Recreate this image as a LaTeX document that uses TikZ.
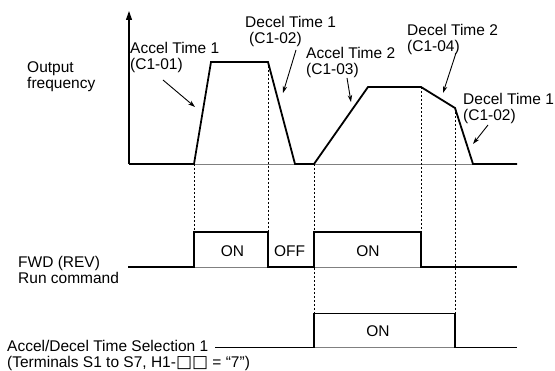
\documentclass[tikz,border=0pt]{standalone}
\usepackage{fontspec}
\setmainfont{Liberation Sans}
\newfontfamily\symfont{DejaVu Sans}
\usetikzlibrary{arrows.meta}
\begin{document}
\begin{tikzpicture}[x=1pt,y=-1pt,
  lbl/.style={font=\fontsize{15.5}{16}\selectfont, inner sep=0pt, align=left, anchor=base west},
  ontext/.style={font=\fontsize{15.5}{16}\selectfont, inner sep=0pt},
  sig/.style={line width=1.8pt, line join=miter},
  thinaxis/.style={line width=0.9pt, draw=black!50},
  dots/.style={line width=0.9pt, dash pattern=on 2.2pt off 1.8pt},
  callout/.style={line width=0.9pt, -{Stealth[length=7pt,width=4.5pt]}},
]
\useasboundingbox (0,0) rectangle (555,371);

% ---- output frequency ----
\coordinate (o) at (129,164);
\coordinate (ytop) at (129,11);
\coordinate (xend) at (517,164);
\coordinate (r1) at (194,164);
\coordinate (p1) at (211,62);
\coordinate (p2) at (268,62);
\coordinate (z1) at (295,164);
\coordinate (r2) at (314,164);
\coordinate (p3) at (368,87);
\coordinate (p4) at (421,87);
\coordinate (k) at (455,108);
\coordinate (z2) at (473,164);

\draw[thinaxis] (o) -- (xend);
\draw[line width=1.1pt, -{Triangle[length=9pt,width=6pt]}] (o) -- (ytop);
\draw[sig] (o) -- (r1) -- (p1) -- (p2) -- (z1) -- (r2) -- (p3) -- (p4) -- (k) -- (z2) -- (xend);

% ---- run command ----
\coordinate (a0) at (128,267);
\coordinate (a1) at (194,267);
\coordinate (a1h) at (194,232);
\coordinate (a2h) at (268,232);
\coordinate (a2) at (268,267);
\coordinate (a3) at (314,267);
\coordinate (a3h) at (314,232);
\coordinate (a4h) at (421,232);
\coordinate (a4) at (421,267);
\coordinate (a5) at (517,267);
\draw[thinaxis] (a1) -- (a2) (a3) -- (a4);
\draw[sig] (a0) -- (a1) -- (a1h) -- (a2h) -- (a2) -- (a3) -- (a3h) -- (a4h) -- (a4) -- (a5);

% ---- accel/decel selection ----
\coordinate (b0) at (215,347.5);
\coordinate (b1) at (314,347.5);
\coordinate (b1h) at (314,313.5);
\coordinate (b2h) at (455,313.5);
\coordinate (b2) at (455,347.5);
\coordinate (b3) at (517,347.5);
\draw[thinaxis] (b1) -- (b2);
\draw[sig] (b0) -- (b1) -- (b1h) -- (b2h) -- (b2) -- (b3);

% ---- dotted guides ----
\draw[dots] (r1) -- (a1h);
\draw[dots] (p2) -- (a2h);
\draw[dots] (r2) -- (b1h);
\draw[dots] (p4) -- (a4h);
\draw[dots] (k) -- (b2h);

% ---- labels (anchor = baseline of last line) ----
\node[lbl] (outf) at (27,88.5) {Output\\frequency};
\node[lbl] (acc1) at (130,69.5) {Accel Time 1\\(C1-01)};
\node[lbl] (dec1a) at (245,44) {Decel Time 1\\\hspace*{4pt}(C1-02)};
\node[lbl] (acc2) at (306,74.5) {Accel Time 2\\(C1-03)};
\node[lbl] (dec2) at (407,52) {Decel Time 2\\(C1-04)};
\node[lbl] (dec1b) at (463,120.5) {Decel Time 1\\(C1-02)};
\node[lbl] (fwd) at (18,284) {FWD (REV)\\Run command};
\node[lbl] (sel) at (7,368) {Accel/Decel Time Selection 1\\(Terminals S1 to S7, H1-{\symfont\fontsize{17}{16}\selectfont □□} = “7”)};

\node[ontext] (on1) at (232.5,251.5) {ON};
\node[ontext] (off) at (289.5,251.5) {OFF};
\node[ontext] (on2) at (368,251.5) {ON};
\node[ontext] (on3) at (378,331.5) {ON};

% ---- callout arrows ----
\coordinate (c1s) at (163,80);  \coordinate (c1e) at (195,107);
\coordinate (c2s) at (296,50);  \coordinate (c2e) at (283,93);
\coordinate (c3s) at (347,78);  \coordinate (c3e) at (351,102);
\coordinate (c4s) at (456,53);  \coordinate (c4e) at (443,93);
\coordinate (c5s) at (488,125); \coordinate (c5e) at (473,144);
\draw[callout] (c1s) -- (c1e);
\draw[callout] (c2s) -- (c2e);
\draw[callout] (c3s) -- (c3e);
\draw[callout] (c4s) -- (c4e);
\draw[callout] (c5s) -- (c5e);
\end{tikzpicture}
\end{document}
